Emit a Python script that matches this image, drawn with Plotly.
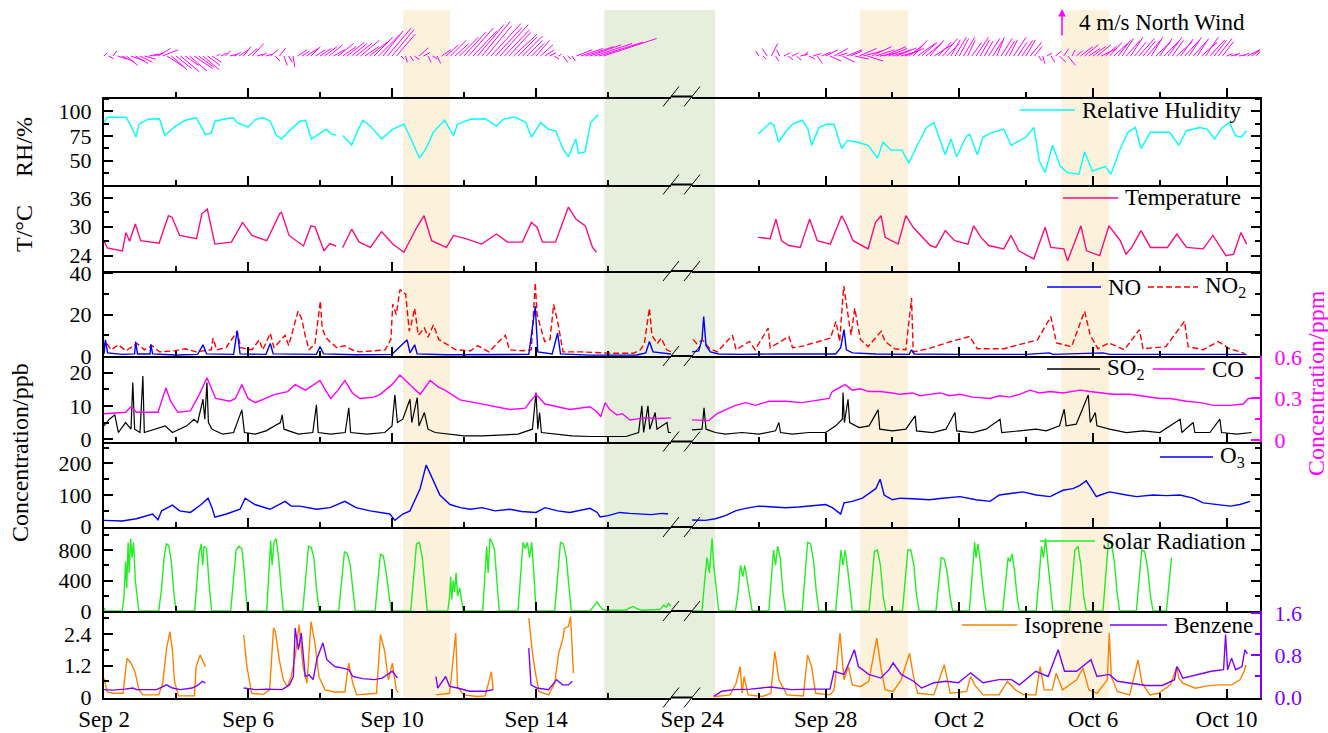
import plotly.graph_objects as go
from datetime import datetime, timedelta

# ---------------------------------------------------------------------------
# DATA  (time as day number: Sep d -> d, Oct d -> 30 + d ; fractional = time of day)
# ---------------------------------------------------------------------------
RH_LEFT = [(2.0, 88.6), (2.09, 94), (2.61, 94), (2.71, 88), (2.89, 74), (2.97, 87), (3.23, 92), (3.54, 92.5),
           (3.69, 75.5), (3.95, 84), (4.26, 91), (4.56, 93.5), (4.69, 85), (4.82, 76.5), (4.98, 78), (5.08, 90),
           (5.39, 92.5), (5.59, 93.5), (5.70, 88.6), (6.00, 84), (6.21, 91.8), (6.42, 93.5), (6.62, 90), (6.78, 76),
           (6.93, 72), (7.14, 80), (7.44, 90), (7.60, 91), (7.76, 72), (7.96, 77), (8.17, 82), (8.32, 77), (8.45, 76),
           (8.54, None), (8.63, 75.5), (8.88, 66), (9.04, 80), (9.19, 91), (9.40, 85), (9.71, 72), (10.02, 82),
           (10.33, 87), (10.53, 72), (10.76, 52.6), (10.94, 62), (11.15, 79), (11.46, 91), (11.71, 75.5), (11.82, 87),
           (12.18, 92), (12.59, 92.5), (12.90, 85), (13.10, 92), (13.41, 94.4), (13.72, 88.6), (13.87, 74),
           (14.13, 88.6), (14.34, 82), (14.55, 80), (14.75, 62), (14.90, 54), (15.11, 72), (15.18, 57.5),
           (15.36, 59), (15.52, 88.6), (15.73, 96.7)]
RH_RIGHT = [(25.98, 77), (26.17, 83.7), (26.34, 88.6), (26.45, 86), (26.59, 69), (26.79, 78.8), (27.01, 87),
            (27.30, 91), (27.47, 82), (27.58, 65.7), (27.80, 83.7), (28.03, 87), (28.25, 87), (28.48, 62.4),
            (28.65, 70.6), (28.93, 69), (29.27, 65.7), (29.55, 52.6), (29.72, 69), (29.95, 60.8), (30.28, 60.8),
            (30.49, 47.7), (30.74, 65.7), (31.02, 83.7), (31.24, 88.6), (31.41, 72), (31.58, 56), (31.75, 72),
            (31.92, 54), (32.20, 74), (32.31, 77), (32.54, 56), (32.71, 74), (32.99, 78.8), (33.33, 82),
            (33.55, 65.7), (34.00, 74), (34.23, 83.7), (34.40, 49.3), (34.57, 38), (34.79, 65.7), (35.02, 44.4),
            (35.24, 38), (35.58, 36.3), (35.75, 59), (35.98, 39.5), (36.37, 44.4), (36.54, 36.3), (36.82, 62.4),
            (37.05, 78.8), (37.27, 83.7), (37.44, 62.4), (37.72, 78.8), (38.29, 78.8), (38.57, 65.7), (38.80, 80.4),
            (39.19, 83.7), (39.42, 82), (39.64, 72), (39.87, 83.7), (40.09, 88.6), (40.26, 75.5), (40.43, 73.9),
            (40.60, 80.4)]

TEMP_LEFT = [(2.0, 27.1), (2.09, 25.6), (2.51, 25), (2.61, 28.8), (2.71, 27), (2.87, 30.6), (3.02, 27.1),
             (3.53, 26.6), (3.79, 32.3), (3.89, 32), (4.10, 28.2), (4.57, 27.5), (4.72, 32.7), (4.87, 33.7),
             (5.08, 26.4), (5.54, 26.8), (5.85, 30.9), (6.11, 28.2), (6.52, 27.1), (6.88, 32.7), (6.93, 33),
             (7.14, 28.2), (7.54, 26), (7.75, 30.2), (7.86, 30), (8.11, 25), (8.27, 26.5), (8.45, 26), (8.54, None),
             (8.63, 25.7), (8.88, 29.5), (9.09, 26.8), (9.40, 25.7), (9.71, 29), (10.02, 26.4), (10.33, 24.7),
             (10.69, 29.9), (10.89, 32.3), (11.10, 27.1), (11.51, 25.7), (11.71, 28.2), (12.07, 27.5), (12.49, 26.4),
             (12.90, 28.5), (13.21, 26.8), (13.62, 26.8), (13.87, 30.9), (14.03, 29.9), (14.18, 26.8), (14.54, 26.8),
             (14.90, 34.1), (15.11, 31.6), (15.37, 30.2), (15.57, 25.7), (15.68, 24.7)]
TEMP_RIGHT = [(25.98, 27.8), (26.34, 27.5), (26.51, 31.6), (26.68, 27.1), (26.90, 26.1), (27.24, 25.7),
              (27.52, 31.6), (27.75, 27.1), (28.14, 26.4), (28.48, 32.3), (28.59, 30.9), (28.82, 27.1),
              (29.27, 25.4), (29.38, 28.2), (29.49, 30.9), (29.66, 32.3), (29.78, 27.8), (30.17, 26.4),
              (30.40, 32.3), (30.62, 29.9), (31.13, 26.1), (31.30, 25.7), (31.58, 29.2), (31.86, 27.1),
              (32.26, 26.4), (32.43, 30.2), (32.65, 27.8), (32.88, 26.1), (33.33, 25.4), (33.55, 28.2), (33.78, 25),
              (34.23, 23.3), (34.57, 29.9), (34.74, 25.7), (35.13, 25.4), (35.24, 22.9), (35.64, 30.2), (35.81, 25),
              (36.20, 24), (36.48, 30.2), (36.82, 27.1), (36.99, 24.3), (37.16, 25.7), (37.44, 29.2), (37.72, 25.7),
              (38.23, 25.7), (38.51, 28.5), (38.80, 25.7), (39.30, 25.4), (39.59, 28.2), (39.98, 24), (40.21, 24.3),
              (40.43, 28.8), (40.60, 26.4)]

NO2_LEFT = [(2.0, 4), (2.04, 7), (2.2, 3), (2.4, 5.4), (2.61, 2.5), (2.92, 6), (3.12, 3), (3.33, 5), (3.54, 2),
            (3.95, 2.5), (4.26, 3.5), (4.56, 2), (4.98, 3), (5.03, 8.6), (5.13, 3), (5.39, 4), (5.70, 11.9),
            (5.8, 4), (6.11, 3), (6.31, 7.8), (6.41, 3), (6.62, 11), (6.72, 4), (7.03, 10), (7.13, 5), (7.29, 15),
            (7.39, 21.6), (7.49, 18), (7.6, 9), (7.7, 3), (7.86, 6), (8.01, 26.5), (8.06, 13.5), (8.16, 9),
            (8.27, 7), (8.47, 4), (8.68, 5), (8.89, 3), (9.09, 2), (9.5, 2.5), (9.81, 3), (9.97, 8), (10.02, 25),
            (10.12, 20), (10.22, 32), (10.38, 29.8), (10.48, 12), (10.53, 15), (10.63, 23), (10.73, 10),
            (10.9, 13.5), (11.0, 9), (11.15, 15), (11.3, 8), (11.56, 5.4), (11.77, 3), (12.18, 2.5), (12.38, 5),
            (12.69, 2), (13.15, 10), (13.26, 3), (13.62, 2.5), (13.87, 3), (13.98, 35.4), (14.03, 20),
            (14.08, 16.7), (14.24, 7), (14.39, 8), (14.49, 24.9), (14.6, 16.7), (14.75, 2), (15.26, 2),
            (16.08, 1.3), (16.7, 1.3), (16.9, 3), (17.01, 6), (17.15, 23), (17.22, 10), (17.37, 6), (17.48, 8.6),
            (17.63, 3), (17.75, 2)]
NO2_RIGHT = [(24.03, 8), (24.14, 6), (24.31, 7.8), (24.53, 3.5), (24.76, 2), (25.21, 10), (25.32, 3), (25.72, 7),
             (25.89, 3), (26.28, 13.5), (26.34, 4), (26.90, 9.4), (27.01, 4), (27.24, 4.5), (27.80, 7),
             (28.14, 8.6), (28.31, 16.7), (28.42, 7), (28.54, 33.8), (28.65, 21.6), (28.76, 10), (28.87, 23),
             (29.04, 8), (29.27, 4.5), (29.66, 11.9), (29.78, 7), (30.06, 3.5), (30.40, 3), (30.57, 28), (30.62, 2),
             (31.07, 3.5), (31.75, 7), (32.31, 9.4), (32.54, 3.5), (33.33, 3.5), (33.78, 5.4), (34.34, 7.8),
             (34.74, 19), (34.91, 6.3), (35.36, 4.5), (35.75, 21.6), (35.92, 10), (36.15, 3.5), (36.48, 6.3),
             (36.94, 3), (37.39, 12.7), (37.50, 3.5), (38.18, 4.5), (38.74, 16.7), (38.85, 4.5), (39.30, 3),
             (39.75, 7), (40.09, 3.5), (40.54, 1.3)]
NO_LEFT = [(2.0, 1), (2.04, 7.8), (2.1, 1.5), (2.5, 0.8), (2.85, 1), (2.88, 7), (2.93, 1), (3.28, 1), (3.3, 5.7),
           (3.35, 1), (4.0, 0.5), (4.6, 0.8), (4.75, 5.4), (4.85, 1), (5.6, 0.8), (5.7, 12.2), (5.78, 1),
           (6.5, 0.8), (6.62, 6), (6.7, 1), (7.9, 0.8), (8.0, 4.5), (8.1, 1), (9.0, 0.6), (10.0, 0.8), (10.42, 7.8),
           (10.5, 1.5), (10.63, 5.4), (10.7, 1), (11.5, 0.6), (13.8, 0.8), (13.98, 24), (14.05, 2), (14.45, 1),
           (14.6, 11), (14.68, 1), (15.5, 0.4), (16.8, 0.5), (17.05, 1.5), (17.15, 7), (17.25, 2), (17.75, 1)]
NO_RIGHT = [(24.0, 2), (24.2, 2.5), (24.3, 8), (24.35, 19), (24.42, 5), (24.55, 2), (24.8, 1), (25.5, 0.8),
            (26.5, 1), (28.3, 1), (28.45, 4), (28.55, 12.7), (28.62, 3), (28.8, 1.5), (29.5, 1), (30.5, 0.8),
            (30.57, 3), (30.65, 1), (32.0, 0.8), (34.0, 0.8), (34.7, 1.5), (34.8, 0.8), (36.3, 1.5), (36.5, 0.8),
            (38.0, 0.8), (40.0, 1), (40.6, 0.8)]

SO2_LEFT = [(2.0, 4), (2.15, 6), (2.3, 7.3), (2.4, 2), (2.6, 5), (2.75, 3), (2.8, 17), (2.85, 3), (3.0, 2),
            (3.08, 19), (3.12, 2), (3.4, 3), (3.7, 4), (3.9, 2), (4.1, 3), (4.3, 4), (4.5, 6), (4.6, 5),
            (4.75, 12), (4.8, 6), (4.86, 17), (4.9, 5), (5.0, 3), (5.3, 1.5), (5.6, 2), (5.83, 8.8), (5.9, 2),
            (6.2, 1.5), (6.5, 2.5), (6.9, 5), (6.95, 7.3), (7.0, 3), (7.4, 1.5), (7.8, 2), (7.9, 10.3), (7.95, 2),
            (8.3, 1.5), (8.7, 2), (8.8, 9.4), (8.85, 2), (9.3, 1.5), (9.8, 2), (10.0, 4), (10.08, 13.3),
            (10.15, 5), (10.3, 6), (10.5, 12), (10.55, 5), (10.7, 12.5), (10.75, 4), (10.9, 8), (11.0, 3),
            (11.2, 2), (11.6, 1.5), (12.0, 1), (12.5, 1), (13.0, 1.2), (13.5, 1.5), (13.9, 3), (14.0, 14),
            (14.05, 3), (14.1, 8), (14.15, 2), (14.5, 1.5), (15.0, 1), (15.5, 0.8), (16.0, 0.8), (16.5, 0.8),
            (16.85, 2), (16.94, 10), (16.99, 2), (17.11, 10), (17.16, 3), (17.31, 8), (17.36, 3), (17.64, 5),
            (17.68, 2), (17.75, 2)]
SO2_RIGHT = [(24.0, 2.8), (24.3, 3), (24.36, 9.4), (24.42, 3), (24.7, 2), (25.0, 1.5), (25.5, 2), (26.0, 1.5),
             (26.5, 2.5), (26.6, 5), (26.65, 2), (27.0, 1.5), (27.5, 2), (28.0, 2), (28.3, 4), (28.5, 6),
             (28.52, 14), (28.56, 5), (28.67, 12), (28.72, 5), (29.0, 3.5), (29.3, 4), (29.57, 8.8), (29.62, 3),
             (30.0, 2.5), (30.4, 3), (30.68, 7), (30.72, 2.5), (31.2, 2), (31.6, 3), (31.87, 8), (31.92, 2.5),
             (32.4, 2), (32.8, 3), (33.22, 6), (33.27, 2), (33.8, 2.5), (34.3, 3), (34.6, 2.5), (35.0, 4),
             (35.14, 9), (35.2, 4), (35.5, 4.5), (35.86, 13.3), (35.92, 5), (36.07, 8), (36.12, 4), (36.5, 3),
             (37.0, 2), (37.5, 2.5), (38.0, 2), (38.61, 6), (38.66, 2), (39.0, 5), (39.05, 2), (39.5, 2),
             (39.8, 6), (39.85, 2), (40.3, 1.5), (40.75, 2)]

CO_LEFT = [(2.0, 0.19), (2.6, 0.2), (2.75, 0.24), (2.9, 0.2), (3.5, 0.2), (3.62, 0.3), (3.72, 0.376),
           (3.85, 0.28), (4.05, 0.2), (4.4, 0.21), (4.65, 0.33), (4.86, 0.45), (5.0, 0.36), (5.1, 0.3),
           (5.5, 0.28), (5.65, 0.3), (5.83, 0.40), (6.0, 0.3), (6.2, 0.27), (6.5, 0.3), (6.75, 0.33), (7.1, 0.35),
           (7.31, 0.40), (7.6, 0.36), (8.0, 0.43), (8.15, 0.36), (8.3, 0.30), (8.5, 0.36), (8.69, 0.43),
           (8.9, 0.34), (9.11, 0.30), (9.5, 0.31), (9.67, 0.33), (10.0, 0.4), (10.22, 0.47), (10.5, 0.40),
           (10.78, 0.33), (11.06, 0.43), (11.3, 0.38), (11.47, 0.36), (11.89, 0.29), (12.3, 0.27), (12.72, 0.25),
           (13.28, 0.22), (13.7, 0.23), (14.0, 0.33), (14.25, 0.26), (14.6, 0.24), (14.94, 0.22), (15.5, 0.24),
           (15.7, 0.2), (15.8, 0.168), (15.92, 0.27), (16.05, 0.22), (16.25, 0.18), (16.4, 0.19), (16.61, 0.145),
           (17.0, 0.16), (17.4, 0.155), (17.75, 0.16)]
CO_RIGHT = [(24.0, 0.145), (24.5, 0.14), (24.75, 0.19), (25.0, 0.22), (25.3, 0.25), (25.6, 0.27), (25.9, 0.25),
            (26.3, 0.28), (26.8, 0.28), (27.3, 0.27), (27.8, 0.29), (28.1, 0.3), (28.2, 0.35), (28.58, 0.40),
            (28.8, 0.36), (29.03, 0.37), (29.3, 0.35), (29.63, 0.35), (30.0, 0.34), (30.23, 0.33), (30.6, 0.34),
            (30.83, 0.32), (31.1, 0.33), (31.43, 0.34), (31.7, 0.32), (32.02, 0.33), (32.4, 0.31), (32.92, 0.3),
            (33.2, 0.32), (33.52, 0.31), (33.8, 0.33), (34.12, 0.36), (34.4, 0.34), (34.72, 0.35), (35.1, 0.34),
            (35.62, 0.36), (35.9, 0.35), (36.22, 0.34), (36.6, 0.33), (37.11, 0.33), (37.4, 0.32), (37.71, 0.31),
            (38.0, 0.3), (38.31, 0.3), (38.8, 0.28), (39.21, 0.27), (39.6, 0.25), (40.11, 0.25), (40.5, 0.26),
            (40.65, 0.3), (40.75, 0.3)]

O3_LEFT = [(2.0, 20), (2.5, 18), (2.9, 25), (3.2, 35), (3.35, 40), (3.5, 22), (3.6, 50), (3.9, 68), (4.1, 50),
           (4.4, 45), (4.7, 70), (4.89, 90), (5.0, 60), (5.08, 30), (5.4, 40), (5.78, 55), (5.92, 90), (6.19, 70),
           (6.61, 55), (7.03, 80), (7.2, 65), (7.44, 65), (7.9, 55), (8.28, 60), (8.69, 80), (9.0, 60),
           (9.39, 50), (9.94, 40), (10.08, 20), (10.3, 40), (10.5, 50), (10.78, 120), (10.95, 195),
           (11.05, 170), (11.33, 100), (11.61, 70), (11.9, 60), (12.17, 55), (12.5, 60), (12.86, 50),
           (13.28, 55), (13.6, 48), (14.0, 45), (14.25, 60), (14.6, 50), (14.94, 45), (15.2, 50), (15.5, 58),
           (15.7, 45), (15.78, 31), (16.0, 35), (16.33, 45), (16.6, 42), (16.89, 40), (17.2, 38), (17.5, 42),
           (17.67, 40)]
O3_RIGHT = [(24.0, 21), (24.4, 20), (24.7, 25), (24.85, 31), (25.0, 35), (25.3, 50), (25.6, 58), (26.0, 65),
            (26.4, 62), (26.8, 60), (27.2, 62), (27.6, 65), (28.0, 70), (28.2, 60), (28.45, 40), (28.55, 75),
            (28.8, 80), (29.1, 90), (29.5, 120), (29.63, 150), (29.75, 100), (30.0, 85), (30.23, 90), (30.6, 88),
            (31.1, 85), (31.5, 90), (32.02, 95), (32.5, 85), (32.92, 80), (33.2, 100), (33.52, 105), (33.9, 110),
            (34.3, 100), (34.72, 95), (35.1, 115), (35.4, 120), (35.6, 130), (35.8, 145), (35.95, 120),
            (36.1, 95), (36.22, 100), (36.5, 110), (37.0, 100), (37.3, 95), (37.8, 100), (38.2, 98), (38.6, 100),
            (39.0, 90), (39.3, 75), (39.8, 70), (40.11, 65), (40.4, 70), (40.7, 80)]

SOLAR_LEFT = [(2.0, 40), (2.05, 0), (2.5, 0), (2.55, 150), (2.6, 650), (2.63, 300), (2.67, 900), (2.7, 500),
              (2.74, 950), (2.78, 700), (2.82, 900), (2.87, 400), (2.92, 200), (2.97, 0),
              (3.52, 0), (3.6, 300), (3.67, 700), (3.73, 880), (3.8, 860), (3.87, 650), (3.94, 250), (4.0, 0),
              (4.52, 0), (4.58, 400), (4.64, 750), (4.7, 880), (4.74, 600), (4.78, 850), (4.85, 820), (4.92, 350),
              (4.99, 0), (5.52, 0), (5.6, 450), (5.67, 800), (5.75, 850), (5.83, 820), (5.9, 500), (5.98, 0),
              (6.52, 0), (6.58, 500), (6.63, 920), (6.67, 600), (6.72, 900), (6.78, 950), (6.85, 700), (6.92, 300),
              (6.98, 0), (7.52, 0), (7.6, 450), (7.68, 850), (7.76, 830), (7.83, 700), (7.9, 300), (7.98, 0),
              (8.52, 0), (8.6, 400), (8.68, 780), (8.76, 750), (8.84, 600), (8.92, 250), (8.98, 0),
              (9.53, 0), (9.6, 350), (9.68, 750), (9.76, 720), (9.84, 500), (9.92, 200), (9.98, 0),
              (10.52, 0), (10.6, 500), (10.68, 880), (10.76, 900), (10.84, 700), (10.92, 300), (10.98, 0),
              (11.55, 0), (11.6, 200), (11.63, 450), (11.66, 150), (11.7, 400), (11.74, 250), (11.78, 500),
              (11.82, 200), (11.88, 300), (11.94, 100), (11.98, 0),
              (12.52, 0), (12.58, 450), (12.63, 850), (12.67, 500), (12.72, 950), (12.78, 900), (12.85, 800),
              (12.92, 350), (12.98, 0), (13.5, 0), (13.58, 450), (13.64, 900), (13.7, 820), (13.76, 900),
              (13.82, 700), (13.88, 900), (13.94, 500), (14.0, 0), (14.52, 0), (14.6, 450), (14.68, 900),
              (14.76, 880), (14.84, 700), (14.92, 300), (14.98, 0), (15.5, 0), (15.6, 60), (15.7, 120), (15.78, 60),
              (15.85, 20), (15.95, 10), (16.5, 10), (16.6, 40), (16.7, 60), (16.8, 30), (16.95, 10), (17.45, 20),
              (17.55, 80), (17.62, 50), (17.68, 100), (17.75, 60)]
SOLAR_RIGHT = [(24.0, 0), (24.3, 0), (24.38, 400), (24.45, 700), (24.52, 500), (24.6, 950), (24.65, 600),
               (24.72, 300), (24.8, 0), (25.3, 0), (25.38, 250), (25.45, 600), (25.52, 450), (25.58, 600),
               (25.66, 400), (25.74, 150), (25.8, 0), (26.3, 0), (26.38, 400), (26.44, 800), (26.5, 600),
               (26.56, 850), (26.64, 700), (26.72, 250), (26.8, 0), (27.3, 0), (27.38, 450), (27.46, 900),
               (27.55, 880), (27.64, 650), (27.72, 250), (27.8, 0), (28.3, 0), (28.38, 400), (28.46, 800),
               (28.52, 600), (28.58, 800), (28.66, 550), (28.74, 200), (28.8, 0), (29.3, 0), (29.38, 400),
               (29.46, 780), (29.55, 800), (29.64, 600), (29.72, 200), (29.8, 0), (30.3, 0), (30.38, 400),
               (30.46, 800), (30.55, 800), (30.64, 600), (30.72, 200), (30.8, 0), (31.3, 0), (31.38, 350),
               (31.46, 700), (31.55, 680), (31.64, 500), (31.72, 200), (31.8, 0), (32.3, 0), (32.38, 450),
               (32.46, 900), (32.5, 700), (32.56, 880), (32.64, 600), (32.72, 250), (32.8, 0), (33.3, 0),
               (33.38, 350), (33.46, 700), (33.52, 650), (33.58, 750), (33.66, 500), (33.74, 150), (33.8, 0),
               (34.3, 0), (34.38, 400), (34.46, 850), (34.52, 700), (34.58, 950), (34.66, 600), (34.74, 200),
               (34.8, 0), (35.3, 0), (35.38, 400), (35.46, 800), (35.55, 850), (35.64, 600), (35.72, 200),
               (35.8, 0), (36.3, 0), (36.38, 450), (36.46, 900), (36.55, 900), (36.64, 650), (36.72, 250),
               (36.8, 0), (37.3, 0), (37.38, 400), (37.46, 800), (37.55, 780), (37.64, 550), (37.72, 200),
               (37.8, 0), (38.2, 0), (38.28, 350), (38.35, 700)]

ISOPRENE_LEFT = [(2.0, 0.72), (2.09, 0.2), (2.25, 0.15), (2.53, 0.15), (2.58, 0.78), (2.64, 1.48), (2.75, 1.29),
                 (2.86, 0.97), (2.91, 0.66), (2.97, 0.28), (3.08, 0.09), (3.52, 0.09), (3.63, 0.53), (3.74, 1.86),
                 (3.83, 2.49), (3.90, 1.8), (3.96, 0.59), (4.07, 0.05), (4.51, 0.05), (4.56, 1.16), (4.67, 1.6),
                 (4.78, 1.23), (4.82, 1.16), (5.3, None),
                 (5.88, 2.37), (5.97, 1.16), (6.10, 0.15), (6.43, 0.11), (6.60, 0.28), (6.71, 2.62), (6.76, 2.49),
                 (6.87, 1.42), (6.98, 0.66), (7.09, 0.4), (7.20, 0.78), (7.31, 1.54), (7.42, 2.75), (7.53, 1.16),
                 (7.64, 0.53), (7.75, 2.87), (7.86, 2.05), (7.97, 0.78), (8.14, 0.28), (8.41, 0.2), (8.69, 0.2),
                 (8.80, 1.29), (8.91, 0.53), (9.02, 0.09), (9.57, 0.15), (9.68, 2.37), (9.79, 1.8), (9.90, 0.66),
                 (10.01, 1.29), (10.12, 0.28), (10.17, 0.18), (10.7, None),
                 (11.22, 0.09), (11.60, 0.15), (11.77, 2.43), (11.82, 0.4), (11.99, 0.09), (12.37, 0.03),
                 (12.59, 0.05), (12.76, 0.97), (12.81, 0.28), (13.3, None),
                 (13.80, 3.0), (13.89, 1.8), (13.97, 1.04), (14.08, 0.22), (14.35, 0.09), (14.52, 0.53),
                 (14.63, 1.67), (14.74, 2.18), (14.79, 2.62), (14.90, 2.68), (14.96, 3.06), (15.04, 0.91)]
BENZENE_LEFT = [(2.0, 0.14), (2.25, 0.13), (2.58, 0.15), (2.80, 0.17), (2.91, 0.14), (3.08, 0.14), (3.46, 0.14),
                (3.74, 0.23), (3.90, 0.17), (4.12, 0.14), (4.45, 0.17), (4.62, 0.23), (4.73, 0.3), (4.82, 0.27),
                (5.3, None),
                (5.88, 0.17), (6.21, 0.14), (6.54, 0.15), (6.76, 0.14), (6.95, 0.14), (7.15, 0.23), (7.26, 0.39),
                (7.31, 1.31), (7.40, 0.9), (7.48, 1.22), (7.59, 0.39), (7.70, 0.42), (7.81, 0.33), (7.92, 0.74),
                (8.08, 1.03), (8.19, 0.71), (8.41, 0.58), (8.63, 0.55), (8.80, 0.52), (8.91, 0.39), (9.18, 0.35),
                (9.51, 0.33), (9.73, 0.36), (10.01, 0.49), (10.15, 0.36), (10.7, None),
                (11.22, 0.39), (11.27, 0.17), (11.49, 0.39), (11.60, 0.2), (11.82, 0.17), (12.15, 0.11),
                (12.59, 0.11), (12.81, 0.14), (13.3, None),
                (13.80, 0.93), (13.86, 0.23), (14.02, 0.17), (14.35, 0.14), (14.57, 0.33), (14.74, 0.23),
                (14.90, 0.23), (15.01, 0.3)]
ISOPRENE_RIGHT = [(24.65, 0.02), (25.14, 0.09), (25.32, 0.53), (25.44, 1.16), (25.50, 0.15), (25.56, 0.78),
                  (25.68, 0.09), (26.11, 0.03), (26.36, 0.15), (26.48, 1.73), (26.60, 0.66), (26.84, 0.09),
                  (27.33, 0.05), (27.46, 1.6), (27.58, 1.16), (27.70, 0.15), (28.13, 0.09), (28.25, 0.28),
                  (28.31, 0.91), (28.43, 2.43), (28.55, 0.66), (28.68, 1.16), (28.80, 0.47), (29.04, 0.4),
                  (29.29, 0.6), (29.53, 2.24), (29.65, 1.16), (29.78, 0.28), (30.02, 0.22), (30.26, 0.66),
                  (30.51, 1.67), (30.63, 0.78), (30.75, 0.15), (31.24, 0.09), (31.55, 1.23), (31.73, 0.15),
                  (32.22, 0.22), (32.34, 0.78), (32.46, 0.47), (32.71, 0.09), (33.19, 0.09), (33.44, 0.6),
                  (33.68, 0.28), (33.93, 0.09), (34.29, 0.09), (34.42, 1.16), (34.54, 0.28), (34.78, 0.28),
                  (34.90, 0.91), (35.09, 0.28), (35.51, 0.66), (35.70, 1.1), (35.88, 0.28), (36.12, 0.15),
                  (36.43, 0.66), (36.49, 2.43), (36.55, 0.78), (36.73, 0.22), (37.10, 0.09), (37.35, 1.42),
                  (37.47, 0.53), (37.71, 0.09), (37.96, 0.15), (38.32, 0.47), (38.51, 1.16), (38.57, 0.72),
                  (38.69, 0.53), (39.06, 0.34), (39.42, 0.43), (39.79, 0.47), (40.15, 0.47), (40.40, 0.66),
                  (40.52, 0.97), (40.58, 1.22)]
BENZENE_RIGHT = [(24.65, 0.01), (24.89, 0.11), (25.26, 0.14), (25.75, 0.15), (26.36, 0.19), (26.97, 0.14),
                 (27.58, 0.15), (28.13, 0.15), (28.25, 0.49), (28.55, 0.43), (28.74, 0.71), (28.86, 0.9),
                 (28.98, 0.58), (29.29, 0.43), (29.65, 0.36), (29.90, 0.52), (30.02, 0.65), (30.26, 0.43),
                 (30.63, 0.3), (30.87, 0.17), (31.24, 0.27), (31.61, 0.3), (31.97, 0.27), (32.34, 0.46),
                 (32.71, 0.27), (33.19, 0.33), (33.56, 0.33), (33.80, 0.23), (34.29, 0.49), (34.66, 0.39),
                 (34.96, 0.9), (35.15, 0.49), (35.51, 0.49), (35.94, 0.71), (36.12, 0.39), (36.49, 0.43),
                 (36.73, 0.3), (37.10, 0.27), (37.59, 0.22), (38.08, 0.22), (38.44, 0.33), (38.51, 0.58),
                 (38.57, 0.52), (38.69, 0.36), (39.18, 0.43), (39.54, 0.49), (39.91, 0.52), (39.97, 1.19),
                 (40.03, 0.52), (40.15, 0.74), (40.27, 0.52), (40.46, 0.58), (40.55, 0.9), (40.62, 0.82)]

# wind (m/s), one value every 3 h ; u = eastward, v = northward
WIND_LEFT_START = 2.0
WIND_RIGHT_START = 26.0
WIND_STEP_DAYS = 0.125
WIND_U_LEFT = [0.5, 0.8, 0.6, 1.5, 2.0, 1.8, 2.2, 2.0,
               2.0, 1.8, 1.5, 1.6, 2.0, 2.5, 2.8, 2.5,
               2.5, 3.0, 2.2, 2.8, 3.0, 2.5, 2.6, 2.0,
               1.5, 0.5, 1.0, 0.8, 1.2, 1.0, 1.5, 1.2,
               1.5, 1.8, 1.0, 0.8, 1.0, 1.2, 0.8, 1.0,
               0.5, 0.6, 0.3, 1.5, 1.2, 1.8, 1.5, 1.6,
               1.8, 2.0, 2.2, 1.8, 2.5, 2.2, 2.8, 2.5,
               2.5, 3.0, 2.2, 2.8, 3.0, 3.5, 3.2, 3.8,
               3.5, 3.0, 0.5, 0.3, 0.6, 0.8, 1.5, 1.0,
               0.5, 0.8, 0.6, 1.5, 2.0, 2.5, 2.2, 3.0,
               3.5, 4.0, 3.8, 4.2, 4.5, 4.0, 4.8, 4.2,
               4.5, 4.0, 3.5, 3.8, 3.0, 3.2, 2.5, 2.0,
               2.2, 2.0, 1.5, 1.0, 0.8, 0.5, 0.8, 0.6,
               0.5, 2.5, 3.5, 4.5, 5.0, 6.0, 7.0, 8.5]
WIND_V_LEFT = [0.5, -0.4, 0.8, -0.5, -1.0, -1.5, -0.8, -1.2,
               -1.0, -0.5, 0.3, 0.5, 1.2, 1.0, -1.8, -2.2,
               -2.0, -2.5, -1.5, -2.4, -2.0, -1.8, -2.2, -1.5,
               -1.0, 0.3, 0.5, 0.8, 0.3, 0.6, 1.0, 1.5,
               1.2, 2.0, 0.3, 0.5, 0.3, 1.0, -0.8, 1.3,
               -1.5, -1.0, -1.8, 1.0, 0.8, 1.2, 1.5, 1.0,
               1.2, 1.5, 1.8, 1.0, 2.0, 1.5, 2.2, 2.0,
               2.0, 2.5, 1.5, 2.2, 3.0, 3.5, 4.0, 4.5,
               4.2, 3.5, -0.5, -1.0, -0.8, -0.6, 1.3, 0.5,
               -1.0, -0.5, -1.2, 1.0, 1.8, 2.5, 2.0, 3.0,
               3.8, 4.5, 4.0, 5.0, 5.5, 4.8, 5.2, 4.5,
               5.0, 4.2, 3.8, 3.5, 3.0, 3.2, 2.5, 2.0,
               2.5, 1.8, 1.0, 0.5, -0.5, 0.3, -1.0, -0.5,
               -0.8, 1.0, 1.2, 1.5, 1.8, 2.0, 2.2, 2.8]
WIND_U_RIGHT = [-0.5, 0.5, -0.8, 1.0, 0.5, -0.5, 1.0, 0.8,
                1.0, 0.8, 1.2, 0.5, 1.0, 1.3, 0.8, 1.5,
                2.0, 1.8, 2.2, 1.5, 2.0, 2.5, 1.8, 2.2,
                2.8, 3.0, 2.5, 3.2, 3.0, 2.8, 3.5, 3.0,
                3.0, 3.2, 2.8, 3.0, 2.5, 2.2, 2.8, 2.5,
                2.5, 2.2, 2.8, 2.0, 2.4, 2.0, 1.5, 1.8,
                1.5, 1.8, 1.2, 1.6, 2.0, 1.5, 1.4, 1.8,
                1.6, 1.2, 1.8, 1.5, 1.3, 2.0, 1.5, 1.7,
                1.5, 1.8, 1.2, 0.5, 0.3, 0.8, 0.6, 1.0,
                1.0, 0.8, 1.2, 0.5, 1.0, 2.0, 2.2, 1.8,
                2.0, 2.2, 2.5, 1.8, 2.0, 2.2, 2.0, 1.8,
                2.2, 2.0, 1.8, 2.5, 2.0, 2.2, 1.8, 2.4,
                2.0, 2.4, 2.2, 1.8, 2.5, 2.0, 2.3, 2.0,
                2.2, 1.8, 2.5, 2.0, 2.4, 2.0, 2.2, 1.8,
                1.0, 1.2, 0.8, 1.0, 1.0, 2.0, 2.2, 2.0]
WIND_V_RIGHT = [0.8, -0.5, 1.2, 2.0, -0.8, 1.0, 0.5, -0.6,
                0.5, -0.7, 0.3, 0.7, -0.5, 0.4, -1.2, 0.6,
                1.0, -0.8, 1.2, 0.5, -1.0, 1.0, 0.8, -0.5,
                1.2, 0.8, -0.8, 1.5, 1.0, 0.5, 1.5, 1.2,
                1.0, 1.3, 0.8, 1.2, 2.0, 2.5, 2.0, 2.2,
                2.0, 2.5, 1.8, 2.2, 2.8, 2.0, 2.6, 3.0,
                2.8, 3.0, 2.5, 2.2, 3.0, 2.6, 2.4, 2.8,
                2.5, 3.0, 2.8, 2.4, 2.6, 3.0, 2.2, 2.5,
                2.6, 2.2, 1.5, -0.8, -1.2, 0.5, -1.0, 0.8,
                -1.0, 1.2, -1.5, 1.0, 0.8, 1.5, 1.8, 1.2,
                1.5, 1.8, 1.2, 1.6, 2.2, 2.0, 2.5, 2.8,
                2.5, 3.0, 2.2, 2.8, 2.4, 2.6, 3.0, 2.2,
                2.8, 2.4, 3.0, 2.5, 2.2, 2.7, 2.5, 3.0,
                2.4, 2.8, 2.2, 3.0, 2.6, 2.5, 2.8, 2.3,
                0.4, 0.3, 0.5, 0.2, 0.5, 1.0, 1.5, 2.0]

SHADE_ORANGE = [(10.31, 11.61), (29.03, 30.47), (35.05, 36.49)]
SHADE_GREEN = (15.9, 24.69)
LEFT_RANGE = (2.0, 17.75)
RIGHT_RANGE = (24.0, 41.0)

# ---------------------------------------------------------------------------
# GEOMETRY / STYLE
# ---------------------------------------------------------------------------
W, H = 1328, 733
FONT = "Liberation Serif"
XL_PX = (104, 671)
XR_PX = (692, 1260)
ROWS_PX = [(10, 96.5), (96.5, 184.5), (184.5, 271), (271, 356), (356, 441.5),
           (441.5, 527), (527, 611), (611, 697.5)]
WIND_BASE_PX = 56
WIND_PX_PER_MS = 6.25
DAY_MS = 86400000

C_RH, C_T, C_NO, C_NO2 = "#00FFFF", "#FF0A80", "#0000FF", "#FF0000"
C_SO2, C_CO, C_O3, C_SOL = "#000000", "#FF00FF", "#0000FF", "#22EE22"
C_ISO, C_BZ, C_WIND = "#FF8000", "#8000FF", "#FF00FF"
C_ORANGE, C_GREEN = "#FCF1DA", "#E6EEDC"

BASE = datetime(2019, 9, 1)


def T(d):
    return BASE + timedelta(days=d - 1)


def fx(p):
    return p / W


def fy(p):
    return 1 - p / H


def ydom(r):
    top, bot = ROWS_PX[r]
    return [fy(bot), fy(top)]


def xname(n):
    return "x" if n == 1 else f"x{n}"


def yname(n):
    return "y" if n == 1 else f"y{n}"


def xkey(n):
    return "xaxis" if n == 1 else f"xaxis{n}"


def ykey(n):
    return "yaxis" if n == 1 else f"yaxis{n}"


def xl(r):
    return 2 * r + 1


def xr(r):
    return 2 * r + 2


def ymain(r):
    return r + 1


def ycomp(r):
    return r + 9


fig = go.Figure()


def add_series(pairs, r, side, color, yaxis_n, width=1.4, dash=None):
    xs = [T(d) for d, _ in pairs]
    ys = [v for _, v in pairs]
    fig.add_trace(go.Scatter(
        x=xs, y=ys, mode="lines",
        line=dict(color=color, width=width, dash=dash),
        xaxis=xname(xl(r) if side == "L" else xr(r)), yaxis=yname(yaxis_n),
        showlegend=False, hoverinfo="skip"))


add_series(RH_LEFT, 1, "L", C_RH, ymain(1))
add_series(RH_RIGHT, 1, "R", C_RH, ycomp(1))
add_series(TEMP_LEFT, 2, "L", C_T, ymain(2))
add_series(TEMP_RIGHT, 2, "R", C_T, ycomp(2))
add_series(NO2_LEFT, 3, "L", C_NO2, ymain(3), dash="6px,3px")
add_series(NO2_RIGHT, 3, "R", C_NO2, ycomp(3), dash="6px,3px")
add_series(NO_LEFT, 3, "L", C_NO, ymain(3))
add_series(NO_RIGHT, 3, "R", C_NO, ycomp(3))
add_series(SO2_LEFT, 4, "L", C_SO2, ymain(4), width=1.2)
add_series(SO2_RIGHT, 4, "R", C_SO2, ymain(4), width=1.2)
add_series(CO_LEFT, 4, "L", C_CO, ycomp(4))
add_series(CO_RIGHT, 4, "R", C_CO, ycomp(4))
add_series(O3_LEFT, 5, "L", C_O3, ymain(5))
add_series(O3_RIGHT, 5, "R", C_O3, ycomp(5))
add_series(SOLAR_LEFT, 6, "L", C_SOL, ymain(6))
add_series(SOLAR_RIGHT, 6, "R", C_SOL, ycomp(6))
add_series(ISOPRENE_LEFT, 7, "L", C_ISO, ymain(7))
add_series(ISOPRENE_RIGHT, 7, "R", C_ISO, ymain(7))
add_series(BENZENE_LEFT, 7, "L", C_BZ, ycomp(7))
add_series(BENZENE_RIGHT, 7, "R", C_BZ, ycomp(7))

px_per_day_L = (XL_PX[1] - XL_PX[0]) / (LEFT_RANGE[1] - LEFT_RANGE[0])
px_per_day_R = (XR_PX[1] - XR_PX[0]) / (RIGHT_RANGE[1] - RIGHT_RANGE[0])


def wind_trace(start, us, vs, xa, px_per_day):
    xs, ys = [], []
    for i, (u, v) in enumerate(zip(us, vs)):
        d = start + i * WIND_STEP_DAYS
        xs += [T(d), T(d + u * WIND_PX_PER_MS / px_per_day), None]
        ys += [0, v, None]
    fig.add_trace(go.Scatter(x=xs, y=ys, mode="lines", line=dict(color=C_WIND, width=1),
                             xaxis=xname(xa), yaxis=yname(ymain(0)),
                             showlegend=False, hoverinfo="skip"))


wind_trace(WIND_LEFT_START, WIND_U_LEFT, WIND_V_LEFT, xl(0), px_per_day_L)
wind_trace(WIND_RIGHT_START, WIND_U_RIGHT, WIND_V_RIGHT, xr(0), px_per_day_R)

# ---------------------------------------------------------------------------
# AXES
# ---------------------------------------------------------------------------
layout = {}
tick_font = dict(family=FONT, size=22, color="black")
for r in range(8):
    for side, n, rng, px in (("L", xl(r), LEFT_RANGE, XL_PX), ("R", xr(r), RIGHT_RANGE, XR_PX)):
        layout[xkey(n)] = dict(
            type="date", domain=[fx(px[0]), fx(px[1])], anchor=yname(ymain(r)), automargin=False,
            range=[T(rng[0]), T(rng[1])], showline=True, linewidth=2, linecolor="black",
            showgrid=False, zeroline=False, ticks="inside", ticklen=9, tickwidth=2, tickcolor="black",
            tick0=T(rng[0]), dtick=4 * DAY_MS, tickformat="%b %-d",
            minor=dict(ticks="inside", ticklen=5, tickwidth=2, tickcolor="black",
                       tick0=T(rng[0]), dtick=2 * DAY_MS, showgrid=False),
            showticklabels=(r == 7), tickfont=dict(family=FONT, size=23, color="black"),
            ticklabelstandoff=0, fixedrange=True)

wind_range = [-(ROWS_PX[0][1] - WIND_BASE_PX) / WIND_PX_PER_MS, (WIND_BASE_PX - ROWS_PX[0][0]) / WIND_PX_PER_MS]
layout[ykey(1)] = dict(domain=ydom(0), anchor=xname(1), range=wind_range, visible=False,
                       automargin=False, fixedrange=True)

Y_SPECS = {1: ([26, 115], 25, 12.5), 2: ([20.8, 38.8], 6, 3), 3: ([0, 41], 20, 10),
           4: ([-0.7, 25], 10, 5), 5: ([-1, 269], 100, 50), 6: ([0, 1102], 400, 200),
           7: ([-0.01, 3.27], 1.2, 0.6)}
COMP_SPECS = {4: ([-0.011, 0.607], 0.3, 0.15, C_CO, None),
              7: ([-0.01, 1.638], 0.8, 0.4, C_BZ, ".1f")}

for r in range(1, 8):
    rng, dt, mdt = Y_SPECS[r]
    layout[ykey(ymain(r))] = dict(
        domain=ydom(r), anchor=xname(xl(r)), range=rng, showline=True, linewidth=2, automargin=False,
        linecolor="black", showgrid=False, zeroline=False, ticks="inside", ticklen=9, tickwidth=2,
        tickcolor="black", tick0=0, dtick=dt,
        minor=dict(ticks="inside", ticklen=5, tickwidth=2, tickcolor="black", tick0=0, dtick=mdt, showgrid=False),
        tickfont=tick_font, ticklabelstandoff=6, fixedrange=True)
    if r in COMP_SPECS:
        crng, cdt, cmdt, col, fmt = COMP_SPECS[r]
        layout[ykey(ycomp(r))] = dict(
            overlaying=yname(ymain(r)), side="right", anchor=xname(xr(r)), range=crng, automargin=False,
            showline=True, linewidth=2, linecolor=col, showgrid=False, zeroline=False,
            ticks="inside", ticklen=9, tickwidth=2, tickcolor=col, tick0=0, dtick=cdt,
            minor=dict(ticks="inside", ticklen=5, tickwidth=2, tickcolor=col, tick0=0, dtick=cmdt, showgrid=False),
            tickfont=dict(family=FONT, size=22, color=col), tickformat=fmt,
            ticklabelstandoff=8, fixedrange=True)
    else:
        layout[ykey(ycomp(r))] = dict(
            overlaying=yname(ymain(r)), side="right", anchor=xname(xr(r)), range=rng, automargin=False,
            showline=True, linewidth=2, linecolor="black", showgrid=False, zeroline=False,
            ticks="inside", ticklen=9, tickwidth=2, tickcolor="black", tick0=0, dtick=dt,
            minor=dict(ticks="inside", ticklen=5, tickwidth=2, tickcolor="black", tick0=0, dtick=mdt, showgrid=False),
            showticklabels=False, fixedrange=True)

# ---------------------------------------------------------------------------
# SHAPES: shading, break marks, legends
# ---------------------------------------------------------------------------
shapes = []
y_top_all = fy(ROWS_PX[0][0])
y_bot_all = fy(ROWS_PX[7][1])
for a, b in SHADE_ORANGE:
    ref = xname(xl(0)) if b < 20 else xname(xr(0))
    shapes.append(dict(type="rect", xref=ref, yref="paper", x0=T(a), x1=T(b), y0=y_bot_all, y1=y_top_all,
                       fillcolor=C_ORANGE, line=dict(width=0), layer="below"))
shapes.append(dict(type="rect", xref=xname(xl(0)), yref="paper", x0=T(SHADE_GREEN[0]), x1=T(LEFT_RANGE[1]),
                   y0=y_bot_all, y1=y_top_all, fillcolor=C_GREEN, line=dict(width=0), layer="below"))
shapes.append(dict(type="rect", xref="paper", yref="paper", x0=fx(XL_PX[1]), x1=fx(XR_PX[0]),
                   y0=y_bot_all, y1=y_top_all, fillcolor=C_GREEN, line=dict(width=0), layer="below"))
shapes.append(dict(type="rect", xref=xname(xr(0)), yref="paper", x0=T(RIGHT_RANGE[0]), x1=T(SHADE_GREEN[1]),
                   y0=y_bot_all, y1=y_top_all, fillcolor=C_GREEN, line=dict(width=0), layer="below"))

for r in range(8):
    yb = ROWS_PX[r][1]
    shapes.append(dict(type="line", xref="paper", yref="paper", x0=fx(XL_PX[1]), x1=fx(XR_PX[0]),
                       y0=fy(yb), y1=fy(yb), line=dict(color="black", width=2)))
    for xc in (XL_PX[1], XR_PX[0]):
        shapes.append(dict(type="line", xref="paper", yref="paper", x0=fx(xc - 8), x1=fx(xc + 8),
                           y0=fy(yb + 10), y1=fy(yb - 10), line=dict(color="black", width=1)))

annotations = []
LEG_FONT = dict(family=FONT, size=23, color="black")
LEGENDS = [
    (110, [(1020, 1075, C_RH, None, "Relative Hulidity")]),
    (198, [(1063, 1118, C_T, None, "Temperature")]),
    (287, [(1047, 1101, C_NO, None, "NO"), (1148, 1198, C_NO2, "6px,3px", "NO<sub>2</sub>")]),
    (369, [(1047, 1100, C_SO2, None, "SO<sub>2</sub>"), (1153, 1205, C_CO, None, "CO")]),
    (457, [(1160, 1213, C_O3, None, "O<sub>3</sub>")]),
    (541, [(1040, 1095, C_SOL, None, "Solar Radiation")]),
    (625, [(962, 1017, C_ISO, None, "Isoprene"), (1110, 1167, C_BZ, None, "Benzene")]),
]
for ypx, items in LEGENDS:
    for x0, x1, col, dash, label in items:
        shapes.append(dict(type="line", xref="paper", yref="paper", x0=fx(x0), x1=fx(x1),
                           y0=fy(ypx), y1=fy(ypx), line=dict(color=col, width=1.5, dash=dash)))
        annotations.append(dict(x=fx(x1 + 5), y=fy(ypx), xref="paper", yref="paper", text=label,
                                showarrow=False, xanchor="left", yanchor="middle", font=LEG_FONT))

annotations.append(dict(x=fx(1062), y=fy(9), xref="paper", yref="paper", text="", showarrow=True,
                        ax=0, ay=28, arrowhead=2, arrowsize=1, arrowwidth=1.5, arrowcolor=C_WIND))
annotations.append(dict(x=fx(1077), y=fy(23), xref="paper", yref="paper", text="4 m/s North Wind",
                        showarrow=False, xanchor="left", yanchor="middle", font=LEG_FONT))

for text, xp, yp, col in (("RH/%", 24, 147, "black"), ("T/°C", 24, 229, "black"),
                          ("Concentration/ppb", 20, 453, "black"),
                          ("Concentration/ppm", 1316, 383, C_CO)):
    annotations.append(dict(x=fx(xp), y=fy(yp), xref="paper", yref="paper", text=text, textangle=-90,
                            showarrow=False, xanchor="center", yanchor="middle",
                            font=dict(family=FONT, size=24, color=col)))

fig.update_layout(
    template="none",
    width=W, height=H, margin=dict(l=0, r=0, t=0, b=0, autoexpand=False),
    paper_bgcolor="white", plot_bgcolor="rgba(0,0,0,0)",
    font=dict(family=FONT, color="black"), showlegend=False, hovermode=False,
    shapes=shapes, annotations=annotations, **layout)

fig.write_html("out.html", config=dict(displayModeBar=False))
